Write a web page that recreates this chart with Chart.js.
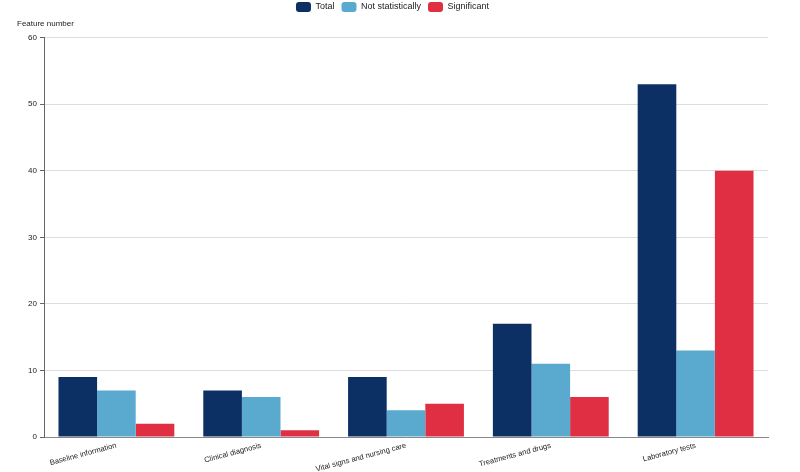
<!DOCTYPE html>
<html>
<head>
<meta charset="utf-8">
<script src="https://cdn.jsdelivr.net/npm/chart.js@4/dist/chart.umd.min.js"></script>
<style>
  html, body { margin: 0; padding: 0; background: #fff; }
  #wrap { width: 800px; height: 472px; }
</style>
</head>
<body>
<div id="wrap"><canvas id="chart"></canvas></div>
<script>
var categories = ['Baseline information', 'Clinical diagnosis', 'Vital signs and nursing care', 'Treatments and drugs', 'Laboratory tests'];
var total = [9, 7, 9, 17, 53];
var notSignificant = [7, 6, 4, 11, 13];
var significant = [2, 1, 5, 6, 40];

Chart.defaults.font.family = '"Liberation Sans", Arial, sans-serif';
Chart.defaults.color = '#222';

var chart = new Chart('chart', {
  type: 'bar',
  data: {
    labels: categories,
    datasets: [
      { label: 'Total', data: total, backgroundColor: '#0c2f64' },
      { label: 'Not statistically', data: notSignificant, backgroundColor: '#5aaad0' },
      { label: 'Significant', data: significant, backgroundColor: '#e02f42' }
    ]
  },
  options: {
    responsive: true,
    maintainAspectRatio: false,
    animation: false,
    layout: { padding: { left: 17, right: 32, top: -5, bottom: 0 } },
    datasets: { bar: { categoryPercentage: 0.8, barPercentage: 1.0 } },
    plugins: {
      legend: {
        position: 'top',
        weight: 3000,
        labels: { boxWidth: 15, boxHeight: 10, padding: 7, font: { size: 9 }, useBorderRadius: true, borderRadius: 3 }
      },
      title: {
        display: true,
        text: 'Feature number',
        align: 'start',
        font: { size: 8, weight: 'normal' },
        padding: { top: -3, bottom: 9 }
      },
      tooltip: { enabled: false }
    },
    scales: {
      x: {
        grid: { display: false },
        border: { color: '#888' },
        ticks: { minRotation: 15, maxRotation: 15, font: { size: 7.6 }, color: '#222', padding: -4 },
        afterFit: function(scale) { scale.height = 35; }
      },
      y: {
        min: 0,
        max: 60,
        ticks: { stepSize: 10, font: { size: 8 }, color: '#222', padding: 3 },
        grid: { color: '#ddd', tickLength: 4, tickColor: '#666' },
        border: { color: '#666' },
        afterFit: function(scale) { scale.width = 27; }
      }
    }
  }
});
</script>
</body>
</html>
